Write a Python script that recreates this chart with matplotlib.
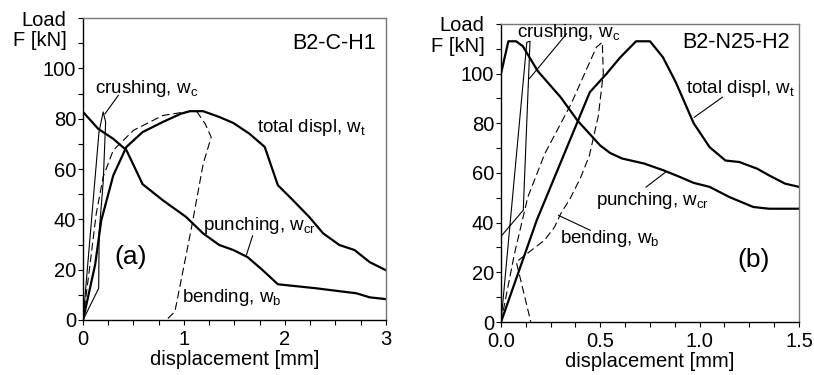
import numpy as np
import matplotlib
matplotlib.use("Agg")
import matplotlib.pyplot as plt
from matplotlib.ticker import MultipleLocator, FixedLocator, FormatStrFormatter

plt.rcParams['font.family'] = ['Liberation Sans', 'DejaVu Sans']

# ---- panel (a): B2-C-H1 ----
a_wt_x = [0, 0.12, 0.18, 0.3, 0.43, 0.59, 0.79, 0.97, 1.06, 1.19, 1.35, 1.49, 1.65, 1.8, 1.93, 2.08, 2.24, 2.38, 2.54, 2.69, 2.84, 3.0]
a_wt_y = [0, 22, 39.5, 57.5, 68.8, 74.7, 78.7, 82, 83, 83, 80.7, 78.3, 74, 68.8, 53.6, 47.6, 41, 34.4, 29.8, 27.8, 23, 19.8]
a_wcr_x = [0, 0.15, 0.3, 0.43, 0.59, 0.79, 1.02, 1.19, 1.35, 1.49, 1.63, 1.78, 1.93, 2.31, 2.71, 2.84, 3.0]
a_wcr_y = [82.7, 76, 72, 67.5, 54, 47.6, 41, 34.4, 29.8, 27.8, 25, 19.8, 14.2, 12.6, 10.6, 9, 8.3]
a_wb_x = [0, 0.066, 0.13, 0.2, 0.3, 0.5, 0.79, 1.06, 1.13, 1.21, 1.27, 1.19, 1.07, 0.91, 0.825]
a_wb_y = [0, 21, 42, 57, 67.5, 75.4, 81.3, 83, 82.7, 78, 72.7, 62, 35.7, 3.3, 0]
a_wc_x = [0, 0.155, 0.16, 0.2, 0.224, 0.2, 0.158, 0]
a_wc_y = [0, 12.6, 35, 55, 78.7, 82.7, 74.7, 0]

# ---- panel (b): B2-N25-H2 ----
b_wt_x = [0, 0.18, 0.447, 0.53, 0.6, 0.68, 0.75, 0.815, 0.88, 0.97, 1.05, 1.13, 1.2, 1.29, 1.35, 1.43, 1.5]
b_wt_y = [0, 41, 92.5, 99.8, 106.5, 113, 113, 106.6, 96.5, 80, 70.4, 65, 64.4, 61.7, 59, 55.7, 54.4]
b_wcr_x = [0, 0.037, 0.076, 0.11, 0.185, 0.30, 0.386, 0.5, 0.55, 0.61, 0.72, 0.82, 0.9, 0.97, 1.05, 1.15, 1.27, 1.35, 1.5]
b_wcr_y = [100, 113, 113, 111, 101, 90.5, 81, 71, 68, 65.8, 63.8, 61, 58.4, 56, 54.4, 50.3, 46.3, 45.6, 45.6]
b_wb_x = [0, 0.068, 0.135, 0.22, 0.353, 0.48, 0.51, 0.515, 0.49, 0.445, 0.40, 0.35, 0.30, 0.27, 0.22, 0.077, 0.15]
b_wb_y = [0, 27.6, 50.3, 67.7, 87.8, 110.6, 112.6, 100, 83, 67, 58, 50, 43.5, 38.3, 33, 24.2, 0]
b_wc_x = [0, 0.13, 0.146, 0.112, 0]
b_wc_y = [0, 112.6, 113, 45, 34.5]

THICK = 1.6
THIN = 0.8
FS = 14.5
FS_LAB = 13.5

fig = plt.figure(figsize=(8.14, 3.75), dpi=100)
ax1 = fig.add_axes([0.102, 0.1467, 0.372, 0.805])
ax2 = fig.add_axes([0.6155, 0.1413, 0.366, 0.795])


def style(ax, xmax, xmajor, xminor, fmt):
    ax.set_ylim(0, 120)
    ax.set_xlim(0, xmax)
    ax.yaxis.set_major_locator(FixedLocator([0, 20, 40, 60, 80, 100]))
    ax.yaxis.set_minor_locator(MultipleLocator(10))
    ax.xaxis.set_major_locator(MultipleLocator(xmajor))
    ax.xaxis.set_minor_locator(MultipleLocator(xminor))
    ax.xaxis.set_major_formatter(FormatStrFormatter(fmt))
    ax.tick_params(which='both', direction='out', length=3.5, width=0.8,
                   labelsize=FS, top=False, right=False)
    ax.tick_params(axis='y', pad=1.5)
    ax.tick_params(axis='x', pad=3.5)
    for s in ['top', 'right']:
        ax.spines[s].set_color('#777777')
        ax.spines[s].set_linewidth(1.0)
    for s in ['left', 'bottom']:
        ax.spines[s].set_linewidth(1.0)
    ax.set_xlabel('displacement [mm]', fontsize=FS, labelpad=1)
    ax.text(-0.055, 1.025, 'Load\nF [kN]', transform=ax.transAxes, ha='right',
            va='top', multialignment='right', fontsize=FS, linespacing=1.1)


style(ax1, 3, 1, 0.25, '%d')
style(ax2, 1.5, 0.5, 0.125, '%.1f')

# panel (a)
ax1.plot(a_wt_x, a_wt_y, color='black', lw=THICK)
ax1.plot(a_wcr_x, a_wcr_y, color='black', lw=THICK)
ax1.plot(a_wb_x, a_wb_y, color='black', lw=THIN, dashes=(7, 3.5))
ax1.plot(a_wc_x, a_wc_y, color='black', lw=THIN)
ax1.plot([0.35, 0.218], [89.3, 82], color='black', lw=THIN)
ax1.plot([1.68, 1.62], [33.5, 26], color='black', lw=THIN)
ax1.text(0.12, 92, r'crushing, w$_\mathregular{c}$', fontsize=FS_LAB, va='center')
ax1.text(1.72, 76.6, r'total displ, w$_\mathregular{t}$', fontsize=FS_LAB, va='center')
ax1.text(1.19, 37.5, r'punching, w$_\mathregular{cr}$', fontsize=FS_LAB, va='center')
ax1.text(0.98, 9, r'bending, w$_\mathregular{b}$', fontsize=FS_LAB, va='center')
ax1.text(0.31, 25, '(a)', fontsize=19, va='center')
ax1.text(2.9, 110, 'B2-C-H1', fontsize=15.5, ha='right', va='center')

# panel (b)
ax2.plot(b_wt_x, b_wt_y, color='black', lw=THICK)
ax2.plot(b_wcr_x, b_wcr_y, color='black', lw=THICK)
ax2.plot(b_wb_x, b_wb_y, color='black', lw=THIN, dashes=(7, 3.5))
ax2.plot(b_wc_x, b_wc_y, color='black', lw=THIN)
ax2.plot([0.33, 0.143], [116, 98], color='black', lw=THIN)
ax2.plot([1.115, 0.973], [90.5, 82.4], color='black', lw=THIN)
ax2.plot([0.83, 0.73], [60.4, 54.3], color='black', lw=THIN)
ax2.plot([0.29, 0.45], [42.9, 36.9], color='black', lw=THIN)
ax2.text(0.08, 116.5, r'crushing, w$_\mathregular{c}$', fontsize=FS_LAB, va='center')
ax2.text(0.93, 94, r'total displ, w$_\mathregular{t}$', fontsize=FS_LAB, va='center')
ax2.text(0.48, 49, r'punching, w$_\mathregular{cr}$', fontsize=FS_LAB, va='center')
ax2.text(0.295, 33.5, r'bending, w$_\mathregular{b}$', fontsize=FS_LAB, va='center')
ax2.text(1.19, 25, '(b)', fontsize=19, va='center')
ax2.text(1.455, 112.5, 'B2-N25-H2', fontsize=15.5, ha='right', va='center')

fig.savefig('out.png', dpi=100)
